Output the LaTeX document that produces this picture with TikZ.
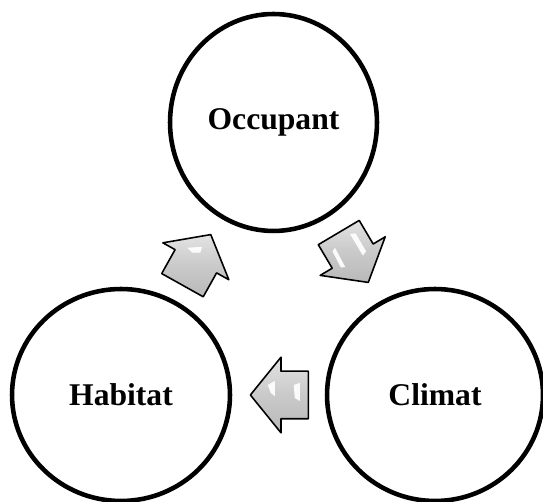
\documentclass[tikz,border=0pt]{standalone}
\usepackage{fontspec}
\setmainfont{Liberation Serif}
\usepackage{tikz}
\usetikzlibrary{positioning, shapes.geometric, shapes.arrows, calc}
\tikzset{
  bubble/.style={draw=black, line width=2.6pt, fill=white, ellipse, inner sep=0pt,
    font=\fontsize{18}{20}\selectfont\bfseries},
  blockarr/.style={single arrow, draw=black, line width=0.9pt, line join=round,
    minimum height=1.16cm, inner xsep=0pt, inner ysep=0.46cm,
    single arrow head extend=0.28cm, single arrow tip angle=102,
    top color=gray!22, bottom color=gray!55, middle color=gray!42,
    sloped, allow upside down, pos=0.465},
  shine/.style={fill=white, draw=none, opacity=0.92},
}

\begin{document}
\begin{tikzpicture}[x=0.02cm, y=0.02cm]
  \useasboundingbox (0,0) rectangle (543,502);
  % the three actors
  \node[bubble, minimum width=4.14cm, minimum height=4.34cm] (occ) at (273.5,379.5) {Occupant};
  \node[bubble, minimum width=4.36cm, minimum height=4.24cm] (hab) at (121,107) {Habitat};
  \node[bubble, minimum width=4.32cm, minimum height=4.24cm] (cli) at (435,107) {Climat};
  % block arrows between them
  \path (hab.center) -- node[blockarr] (up) {} (occ.center);
  \path (occ.center) -- node[blockarr] (dn) {} (cli.center);
  \path (cli.center) -- node[blockarr] (lt) {} (hab.center);
  % highlights
  \begin{scope}[shift={($(up.tip)!0.5!(up.tail)$)}, rotate=60.8]
    \fill[shine] (6,14) -- (14,1.5) -- (8,0.3) -- (4,7.3) -- cycle;
  \end{scope}
  \begin{scope}[shift={($(dn.tip)!0.5!(dn.tail)$)}, rotate=-59.4]
    \fill[shine] (-18,-11) -- (4,-12) -- (2,-16) -- (-16,-15) -- cycle;
    \fill[shine] (-22,9) -- (3,9) -- (1,14) -- (-20,14) -- cycle;
  \end{scope}
  \begin{scope}[shift={($(lt.tip)!0.5!(lt.tail)$)}, rotate=180]
    \fill[shine] (11.5,-10) -- (4.5,-14) -- (4.5,1) -- (8.5,-2) -- cycle;
    \fill[shine] (-14.5,-10) -- (-20.5,-12) -- (-20.5,6) -- (-15.5,3) -- cycle;
  \end{scope}
\end{tikzpicture}
\end{document}
